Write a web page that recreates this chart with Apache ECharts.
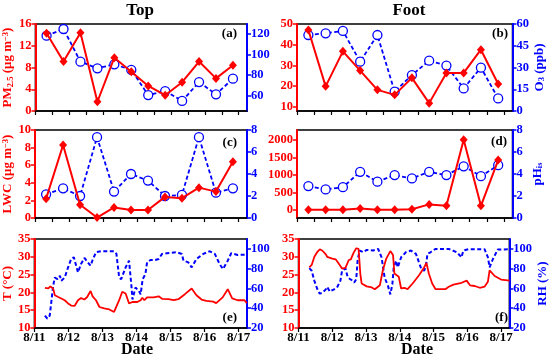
<!DOCTYPE html>
<html>
<head>
<meta charset="utf-8">
<script src="https://cdn.jsdelivr.net/npm/echarts@6/dist/echarts.min.js"></script>
<style>html,body{margin:0;padding:0;background:#fff}#c{width:550px;height:357px}</style>
</head>
<body>
<div id="c"></div>
<script>
// ---- data ----
const sampleTimes = [11.33, 11.83, 12.33, 12.83, 13.33, 13.83, 14.33, 14.83, 15.33, 15.83, 16.33, 16.83];
const dayTicks = [11, 12, 13, 14, 15, 16, 17];
const halfDayTicks = [11, 11.5, 12, 12.5, 13, 13.5, 14, 14.5, 15, 15.5, 16, 16.5, 17];
// (a) Top
const pm25Top = [14.3, 9.1, 14.4, 1.7, 9.8, 7.2, 4.6, 2.9, 5.3, 9.1, 6.0, 8.4];
const rightTopA = [118.6, 125.1, 93.2, 86.7, 90.6, 85.1, 60.6, 64.5, 54.8, 73.3, 61.3, 76.6];
// (b) Foot
const pm25Foot = [47.1, 19.9, 36.8, 27.5, 18.2, 15.8, 24.0, 11.8, 26.4, 26.4, 37.6, 21.0];
const o3Foot = [52.4, 53.6, 55.2, 34.0, 52.4, 13.3, 24.8, 34.7, 31.3, 15.6, 29.9, 8.7];
// (c) Top
const lwcTop = [2.2, 8.3, 1.5, 0.05, 1.2, 0.9, 0.9, 2.4, 2.25, 3.45, 3.0, 6.4];
const rightTopC = [2.15, 2.7, 2.0, 7.35, 2.4, 4.0, 3.4, 2.0, 2.1, 7.35, 2.3, 2.7];
// (d) Foot
const lwcFoot = [5, 5, 5, 45, 5, 5, 20, 160, 120, 2010, 120, 1430];
const pHisFoot = [2.9, 2.6, 2.8, 4.2, 3.3, 3.9, 3.6, 4.2, 3.9, 4.7, 3.8, 4.8];
// (e) Top T and RH
const tTopTime = [11.31, 11.41, 11.47, 11.55, 11.60, 11.70, 11.79, 11.89, 11.99, 12.08, 12.18, 12.28, 12.37, 12.47, 12.55, 12.65, 12.71, 12.81, 12.91, 13.05, 13.20, 13.34, 13.39, 13.49, 13.58, 13.68, 13.78, 13.88, 14.02, 14.12, 14.17, 14.23, 14.31, 14.50, 14.65, 14.75, 14.94, 15.09, 15.23, 15.42, 15.62, 15.76, 15.91, 16.05, 16.25, 16.34, 16.53, 16.68, 16.81, 16.97, 17.17, 17.24];
const tTopVal = [21.3, 21.1, 21.7, 21.1, 19.2, 18.7, 18.3, 17.8, 16.9, 16.3, 16.2, 17.8, 18.4, 18.0, 18.7, 20.4, 18.9, 17.8, 15.9, 15.5, 15.2, 14.5, 14.7, 17.8, 20.2, 19.7, 16.9, 17.3, 17.3, 17.8, 18.5, 17.8, 18.6, 18.6, 18.9, 18.2, 18.1, 17.8, 18.1, 19.5, 21.1, 19.2, 18.0, 17.6, 17.4, 17.0, 18.6, 20.9, 18.3, 17.8, 17.8, 17.0];
const rhTopTime = [11.31, 11.38, 11.45, 11.50, 11.55, 11.60, 11.68, 11.75, 11.79, 11.89, 11.99, 12.08, 12.16, 12.28, 12.37, 12.47, 12.57, 12.65, 12.71, 12.81, 12.96, 13.34, 13.41, 13.49, 13.55, 13.68, 13.78, 13.85, 13.88, 13.97, 14.07, 14.12, 14.18, 14.26, 14.31, 14.41, 14.55, 14.65, 14.75, 14.89, 15.18, 15.33, 15.38, 15.52, 15.62, 15.76, 15.96, 16.15, 16.30, 16.44, 16.54, 16.59, 16.68, 16.78, 16.97, 17.02, 17.24];
const rhTopVal = [32.6, 29.5, 32.6, 47.2, 62.6, 71.0, 69.4, 72.8, 67.7, 71.0, 81.3, 89.8, 91.5, 76.2, 84.7, 90.8, 86.4, 83.0, 88.8, 96.6, 97.6, 97.6, 94.9, 71.0, 69.4, 81.3, 88.1, 62.6, 48.9, 60.9, 57.4, 54.0, 69.4, 74.5, 86.4, 88.8, 88.8, 89.8, 94.9, 95.6, 96.6, 94.9, 88.1, 86.4, 81.3, 89.8, 94.9, 97.6, 94.9, 84.7, 79.6, 78.6, 88.1, 95.6, 93.9, 94.9, 94.2];
// (f) Foot T and RH
const tFootTime = [11.32, 11.39, 11.47, 11.56, 11.63, 11.71, 11.81, 11.85, 11.90, 12.00, 12.10, 12.19, 12.29, 12.39, 12.49, 12.55, 12.63, 12.71, 12.78, 12.83, 12.87, 13.02, 13.17, 13.26, 13.41, 13.50, 13.60, 13.72, 13.80, 13.84, 13.91, 13.97, 14.04, 14.14, 14.23, 14.38, 14.57, 14.72, 14.79, 14.86, 14.96, 15.06, 15.35, 15.45, 15.59, 15.83, 15.98, 16.08, 16.22, 16.37, 16.51, 16.61, 16.66, 16.81, 17.00, 17.25];
const tFootVal = [27.0, 27.7, 30.0, 31.4, 32.1, 31.7, 30.7, 30.0, 30.3, 29.5, 29.3, 28.1, 26.7, 26.9, 29.1, 29.3, 31.1, 32.4, 32.2, 25.3, 22.5, 21.7, 21.4, 20.9, 22.0, 26.3, 29.5, 31.6, 30.5, 25.3, 24.8, 24.4, 21.1, 21.3, 20.9, 22.5, 24.8, 27.0, 28.3, 25.3, 22.5, 20.9, 20.9, 21.6, 22.2, 22.7, 23.3, 22.0, 21.8, 21.3, 21.6, 23.0, 26.2, 24.6, 23.6, 23.3];
const rhFootTime = [11.32, 11.39, 11.47, 11.56, 11.63, 11.71, 11.81, 11.85, 11.93, 12.05, 12.14, 12.24, 12.29, 12.39, 12.46, 12.58, 12.65, 12.71, 12.75, 12.81, 12.92, 13.02, 13.21, 13.36, 13.46, 13.55, 13.65, 13.72, 13.78, 13.82, 13.89, 13.94, 14.04, 14.18, 14.33, 14.48, 14.62, 14.72, 14.77, 14.82, 14.91, 15.06, 15.45, 15.69, 15.83, 15.88, 16.03, 16.51, 16.61, 16.66, 16.76, 16.90, 17.25];
const rhFootVal = [80.6, 77.9, 67.7, 59.1, 54.7, 55.7, 59.1, 61.5, 56.8, 59.1, 60.9, 67.7, 77.9, 80.3, 71.1, 68.3, 66.0, 69.4, 88.1, 98.3, 96.6, 99.0, 98.3, 100.0, 91.5, 71.1, 62.6, 54.0, 64.3, 81.3, 88.1, 81.3, 91.5, 96.6, 98.3, 94.9, 81.3, 77.9, 82.0, 94.9, 96.6, 100.0, 100.0, 96.6, 91.5, 98.3, 99.7, 99.7, 91.5, 81.3, 89.8, 99.3, 99.7];

// ---- chart ----
const FF = '"Liberation Serif","Times New Roman",serif';
const RED = '#ff0000', BLUE = '#0000ff', BLK = '#000000';
const zip = (xs, ys) => xs.map((x, i) => [x, ys[i]]);

const grids = [
  {left: 33, right: 303, top: 24, height: 87},
  {left: 297, right: 37.5, top: 24, height: 87},
  {left: 33, right: 303, top: 130, height: 88},
  {left: 297, right: 37.5, top: 130, height: 88},
  {left: 33, right: 303, top: 239, height: 89},
  {left: 298.5, right: 36.5, top: 239, height: 89}
].map(g => Object.assign({show: true, borderColor: BLK, borderWidth: 1.5, backgroundColor: 'transparent'}, g));

function xAx(gi, labels) {
  return {
    type: 'value', gridIndex: gi, min: 11, max: 17.245,
    axisLine: {show: true, onZero: false, lineStyle: {color: BLK, width: 1.5}},
    axisTick: {show: true, inside: false, length: 4, lineStyle: {color: BLK, width: 1.2},
               customValues: labels ? dayTicks : halfDayTicks},
    axisLabel: {show: labels, customValues: dayTicks, formatter: v => '8/' + v, color: BLK,
                fontFamily: FF, fontWeight: 'bold', fontSize: 13, margin: 3},
    splitLine: {show: false}
  };
}
function yAx(gi, side, color, min, max, ticks, name, gap) {
  const ax = {
    type: 'value', gridIndex: gi, position: side, min: min, max: max,
    axisLine: {show: true, onZero: false, lineStyle: {color: color, width: 2}},
    axisTick: {show: true, inside: false, length: 4, lineStyle: {color: color, width: 1.5}, customValues: ticks},
    axisLabel: {customValues: ticks, formatter: v => String(v), color: color, fontFamily: FF, fontWeight: 'bold', fontSize: 12.5, margin: 4},
    splitLine: {show: false}
  };
  if (name) {
    ax.name = name; ax.nameLocation = 'middle'; ax.nameRotate = 90; ax.nameGap = gap;
    ax.nameTextStyle = {color: color, fontFamily: FF, fontWeight: 'bold', fontSize: 13,
      rich: {
        sub: {fontSize: 8.5, fontFamily: FF, fontWeight: 'bold', color: color, verticalAlign: 'bottom', padding: [5, 0, 0, 0]},
        sup: {fontSize: 8.5, fontFamily: FF, fontWeight: 'bold', color: color, verticalAlign: 'top', padding: [0, 0, 5, 0]}
      }};
  }
  return ax;
}

const xAxis = [0, 1, 2, 3].map(i => xAx(i, false)).concat([xAx(4, true), xAx(5, true)]);
const yAxis = [
  yAx(0, 'left', RED, 0, 16, [0, 4, 8, 12, 16], 'PM{sub|2.5} (μg m{sup|−3})', 16),
  yAx(0, 'right', BLUE, 45, 130, [60, 80, 100, 120]),
  yAx(1, 'left', RED, 8, 50, [10, 20, 30, 40, 50]),
  yAx(1, 'right', BLUE, 0, 60, [0, 15, 30, 45, 60], 'O{sub|3} (ppb)', 18),
  yAx(2, 'left', RED, 0, 10, [0, 2, 4, 6, 8, 10], 'LWC (μg m{sup|−3})', 16),
  yAx(2, 'right', BLUE, 0, 8, [0, 2, 4, 6, 8]),
  yAx(3, 'left', RED, -230, 2290, [0, 500, 1000, 1500, 2000]),
  yAx(3, 'right', BLUE, 0, 8, [0, 2, 4, 6, 8], 'pH{sub|is}', 18),
  yAx(4, 'left', RED, 10, 35, [10, 15, 20, 25, 30, 35], 'T (°C)', 16),
  yAx(4, 'right', BLUE, 20, 110, [20, 40, 60, 80, 100]),
  yAx(5, 'left', RED, 10, 35, [10, 15, 20, 25, 30, 35]),
  yAx(5, 'right', BLUE, 20, 110, [20, 40, 60, 80, 100], 'RH (%)', 18)
];

function blueDots(gi, vals) {
  return {type: 'line', xAxisIndex: gi, yAxisIndex: 2 * gi + 1, data: zip(sampleTimes, vals),
    symbol: 'circle', symbolSize: 9, z: 2,
    lineStyle: {color: BLUE, width: 1.8, type: [4, 2.5]},
    itemStyle: {color: '#ffffff', borderColor: BLUE, borderWidth: 1.3}};
}
function redDiamonds(gi, vals) {
  return {type: 'line', xAxisIndex: gi, yAxisIndex: 2 * gi, data: zip(sampleTimes, vals),
    symbol: 'diamond', symbolSize: [8, 9], z: 3,
    lineStyle: {color: RED, width: 2}, itemStyle: {color: RED}};
}
function redLine(gi, xs, ys) {
  return {type: 'line', xAxisIndex: gi, yAxisIndex: 2 * gi, data: zip(xs, ys), symbol: 'none', z: 3,
    lineStyle: {color: RED, width: 1.8}};
}
function blueLine(gi, xs, ys) {
  return {type: 'line', xAxisIndex: gi, yAxisIndex: 2 * gi + 1, data: zip(xs, ys), symbol: 'none', z: 2,
    lineStyle: {color: BLUE, width: 2, type: [4, 2.5]}};
}

const series = [
  blueDots(0, rightTopA), redDiamonds(0, pm25Top),
  blueDots(1, o3Foot), redDiamonds(1, pm25Foot),
  blueDots(2, rightTopC), redDiamonds(2, lwcTop),
  blueDots(3, pHisFoot), redDiamonds(3, lwcFoot),
  blueLine(4, rhTopTime, rhTopVal), redLine(4, tTopTime, tTopVal),
  blueLine(5, rhFootTime, rhFootVal), redLine(5, tFootTime, tFootVal)
];

const txt = (x, y, s, size, align) => ({type: 'text', x: x, y: y, z: 100,
  style: {text: s, fill: BLK, font: 'bold ' + size + 'px ' + FF, textAlign: align || 'center', textVerticalAlign: 'middle'}});

const graphic = [
  txt(140, 11, 'Top', 17), txt(409, 11, 'Foot', 17),
  txt(237, 34, '(a)', 13, 'right'), txt(508, 34, '(b)', 13, 'right'),
  txt(237, 143, '(c)', 13, 'right'), txt(507, 142, '(d)', 13, 'right'),
  txt(237, 318, '(e)', 13, 'right'), txt(508, 318, '(f)', 13, 'right'),
  txt(137, 350, 'Date', 16), txt(417, 350, 'Date', 16)
];

const chart = echarts.init(document.getElementById('c'), null, {renderer: 'canvas'});
chart.setOption({animation: false, backgroundColor: '#fff', grid: grids, xAxis: xAxis, yAxis: yAxis, series: series, graphic: graphic});
</script>
</body>
</html>
